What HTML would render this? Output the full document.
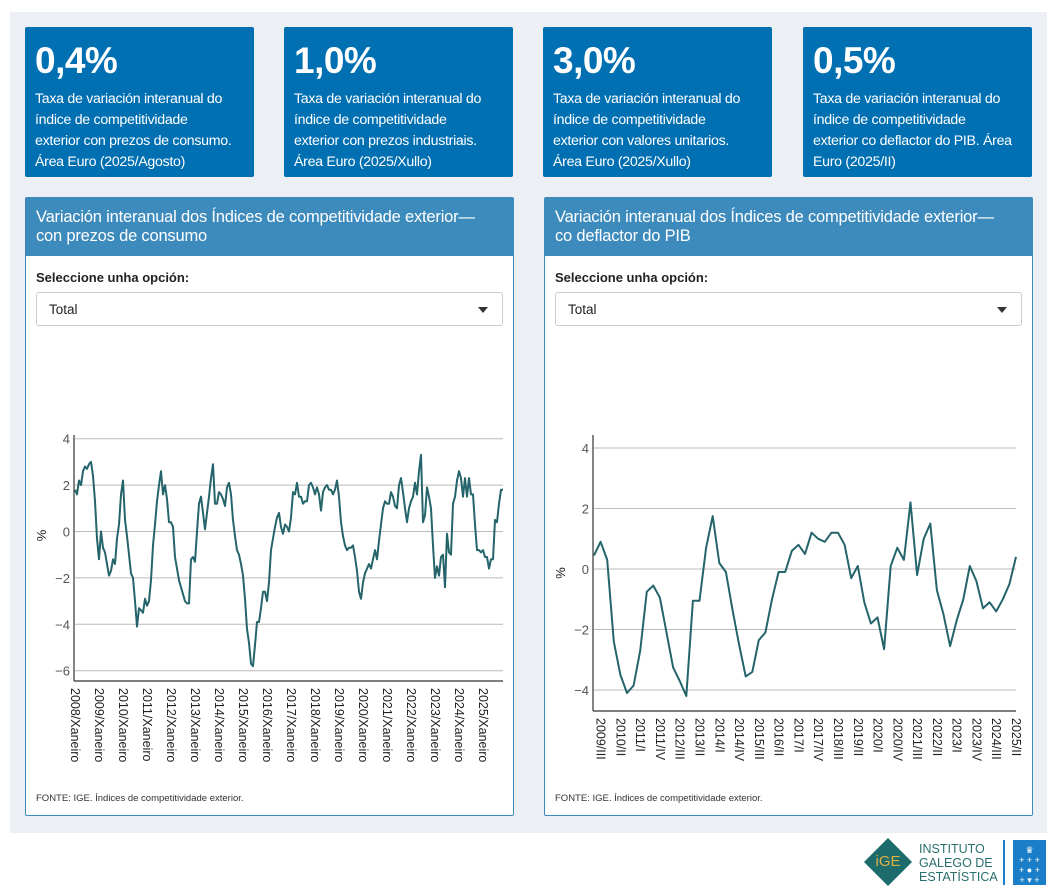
<!DOCTYPE html>
<html><head><meta charset="utf-8">
<style>
*{box-sizing:border-box;margin:0;padding:0}
body{width:1059px;height:896px;background:#fff;font-family:"Liberation Sans",sans-serif;position:relative;overflow:hidden}
.bg{position:absolute;left:10px;top:12px;width:1037px;height:821px;background:#eceff4}
.card{position:absolute;top:27px;width:229px;height:150px;background:#0070b3;color:#fff;border-radius:2px;padding:10px 10px;overflow:hidden}
.card .big{font-size:37px;font-weight:bold;line-height:44px;margin-top:2px;letter-spacing:-0.5px}
.card .txt{font-size:14.2px;line-height:21px;margin-top:6px;letter-spacing:-0.3px;white-space:nowrap}
.panel{position:absolute;top:197px;width:489px;height:619px;background:#fff;border:1px solid #3d8bbd;border-radius:2px}
.phead{height:58px;background:#3d8bbd;color:#fff;font-size:16.5px;line-height:19px;padding:10px 10px;letter-spacing:-0.2px;white-space:nowrap}
.lbl{position:absolute;left:10px;top:72px;font-size:13px;font-weight:bold;color:#222}
.sel{position:absolute;left:10px;top:94px;width:467px;height:34px;border:1px solid #ccc;border-radius:3px;font-size:13.5px;padding:9px 12px;color:#222}
.sel .arr{position:absolute;right:14px;top:14px;width:0;height:0;border-left:5px solid transparent;border-right:5px solid transparent;border-top:6px solid #333}
.src{position:absolute;left:10px;top:595px;font-size:9.5px;color:#333}
svg{position:absolute;left:0;top:0}
</style></head><body>
<div class="bg"></div>
<div class="card" style="left:25px"><div class="big">0,4%</div><div class="txt">Taxa de variación interanual do<br>índice de competitividade<br>exterior con prezos de consumo.<br>Área Euro (2025/Agosto)</div></div>
<div class="card" style="left:284px"><div class="big">1,0%</div><div class="txt">Taxa de variación interanual do<br>índice de competitividade<br>exterior con prezos industriais.<br>Área Euro (2025/Xullo)</div></div>
<div class="card" style="left:543px"><div class="big">3,0%</div><div class="txt">Taxa de variación interanual do<br>índice de competitividade<br>exterior con valores unitarios.<br>Área Euro (2025/Xullo)</div></div>
<div class="card" style="left:803px"><div class="big">0,5%</div><div class="txt">Taxa de variación interanual do<br>índice de competitividade<br>exterior co deflactor do PIB. Área<br>Euro (2025/II)</div></div>

<div class="panel" style="left:25px">
<div class="phead">Variación interanual dos Índices de competitividade exterior—<br>con prezos de consumo</div>
<div class="lbl">Seleccione unha opción:</div>
<div class="sel">Total<span class="arr"></span></div>
<div class="src">FONTE: IGE. Índices de competitividade exterior.</div>
</div>
<div class="panel" style="left:544px">
<div class="phead">Variación interanual dos Índices de competitividade exterior—<br>co deflactor do PIB</div>
<div class="lbl">Seleccione unha opción:</div>
<div class="sel">Total<span class="arr"></span></div>
<div class="src">FONTE: IGE. Índices de competitividade exterior.</div>
</div>

<svg id="chart" width="1059" height="896"></svg>

<div style="position:absolute;left:864px;top:842px;width:48px;height:40px">
<div style="position:absolute;left:7px;top:3px;width:34px;height:34px;background:#1e6b6b;transform:rotate(45deg)"></div>
<div style="position:absolute;left:0;top:11px;width:48px;text-align:center;color:#e0b040;font-size:15px">iGE</div></div>
<div style="position:absolute;left:919px;top:842px;font-size:12.5px;line-height:14px;color:#2a6e6e">INSTITUTO<br>GALEGO DE<br>ESTATÍSTICA</div>
<div style="position:absolute;left:1003px;top:840px;width:2px;height:45px;background:#1a7fc8"></div>
<div style="position:absolute;left:1013px;top:840px;width:33px;height:45px;background:#1a7fc8;color:#fff;font-size:9px;text-align:center;line-height:10px;padding-top:5px">♛<br>+ + +<br>+ ● +<br>+ ▾ +</div>

<script>
const monthlyValues=[1.8,1.6,2.2,2.0,2.6,2.8,2.7,2.9,3.0,2.4,1.3,-0.3,-1.2,0,-0.7,-0.9,-1.4,-1.9,-1.7,-1.2,-1.4,-0.3,0.3,1.6,2.2,0.5,-0.2,-1.0,-1.8,-2.0,-3.0,-4.1,-3.3,-3.4,-3.5,-2.9,-3.2,-3.0,-2.1,-0.6,0.3,1.3,2.0,2.6,1.6,2.0,1.4,0.4,0.4,0.2,-1.1,-1.6,-2.1,-2.4,-2.7,-3.0,-3.1,-3.1,-1.2,-1.1,-1.3,0.0,1.2,1.5,0.8,0.1,0.8,1.5,2.3,2.9,1.2,1.2,1.7,1.6,1.4,1.1,1.9,2.1,1.6,0.5,-0.2,-0.8,-1.0,-1.4,-1.9,-2.9,-4.2,-4.8,-5.7,-5.8,-4.9,-3.9,-3.9,-3.3,-2.6,-2.6,-3.0,-2.2,-0.8,-0.3,0.2,0.6,0.8,0.2,-0.1,0.3,0.2,0.0,0.6,1.7,1.6,2.1,1.5,1.5,1.2,1.3,1.3,2.0,2.1,1.9,1.6,1.9,1.6,0.9,1.7,1.9,2.0,1.8,1.8,1.6,1.8,2.2,1.5,0.4,-0.2,-0.6,-0.8,-0.7,-0.7,-0.6,-1.1,-1.7,-2.6,-2.9,-2.2,-1.8,-1.6,-1.4,-1.6,-1.2,-0.8,-1.2,-0.4,0.3,1.0,1.3,1.2,1.2,1.7,1.5,1.1,1.0,2.0,2.3,1.7,1.0,0.4,1.0,1.3,1.5,2.1,1.6,2.6,3.3,0.4,0.7,1.9,1.5,1.0,-0.6,-2.0,-1.5,-1.9,-1.1,-1.0,-2.4,-0.1,-0.9,-1.0,1.2,1.5,2.2,2.6,2.3,1.5,2.3,1.5,2.3,1.6,1.6,0.3,-0.8,-0.8,-0.9,-0.8,-1.1,-1.1,-1.6,-1.2,-1.2,0.5,0.4,1.2,1.8,1.8];
const monthlyYears=["2008","2009","2010","2011","2012","2013","2014","2015","2016","2017","2018","2019","2020","2021","2022","2023","2024","2025"];
const leftTicks=[4,2,0,-2,-4,-6];
const quarterValues=[0.45,0.9,0.3,-2.4,-3.5,-4.1,-3.85,-2.7,-0.75,-0.55,-0.95,-2.1,-3.25,-3.7,-4.2,-1.05,-1.05,0.7,1.75,0.2,-0.1,-1.35,-2.5,-3.55,-3.4,-2.35,-2.1,-1.0,-0.1,-0.1,0.6,0.8,0.5,1.2,1.0,0.9,1.2,1.2,0.8,-0.3,0.1,-1.1,-1.8,-1.6,-2.65,0.1,0.7,0.3,2.2,-0.2,1.0,1.5,-0.7,-1.5,-2.55,-1.7,-1.0,0.1,-0.4,-1.3,-1.1,-1.4,-1.0,-0.5,0.4];
const quarterLabels=["2009/III","2010/II","2011/I","2011/IV","2012/III","2013/II","2014/I","2014/IV","2015/III","2016/II","2017/I","2017/IV","2018/III","2019/II","2020/I","2020/IV","2021/III","2022/II","2023/I","2023/IV","2024/III","2025/II"];
const rightTicks=[4,2,0,-2,-4];

const svg=document.getElementById('chart');
const NS='http://www.w3.org/2000/svg';
function mk(tag,attrs,parent){const e=document.createElementNS(NS,tag);for(const k in attrs)e.setAttribute(k,attrs[k]);(parent||svg).appendChild(e);return e;}

function drawChart(cfg){
  const {vals,x0,x1,yTop,yBot,vMax,vMin,ticks,axTop,labels,labelIdx,color,name}=cfg;
  const g=mk('g',{});
  
  
  const xs=i=>x0+(x1-x0)*i/(vals.length-1);
  const ys=v=>yTop+(vMax-v)*(yBot-yTop)/(vMax-vMin);
  ticks.forEach(t=>{
    const l=mk('line',{x1:x0,x2:x1,y1:ys(t),y2:ys(t),stroke:'#bbb','stroke-width':1},g);
    
    
    const tx=mk('text',{x:x0-5,y:ys(t)+5,'text-anchor':'end','font-size':13,fill:'#555','font-family':'Liberation Sans, sans-serif'},g);
    tx.textContent=t<0?'\u2212'+Math.abs(t):String(t);
    
    
  });
  const ax=mk('line',{x1:x0-1,x2:x0-1,y1:axTop,y2:cfg.axBot,stroke:'#333','stroke-width':1.2},g);
  
  
  const bx=mk('line',{x1:x0-1,x2:x1,y1:cfg.axBot,y2:cfg.axBot,stroke:'#333','stroke-width':1.2},g);
  
  
  const yt=mk('text',{x:0,y:0,transform:`translate(${cfg.yTitleX},${ys(0)+4}) rotate(-90)`,'text-anchor':'middle','font-size':13,fill:'#222','font-family':'Liberation Sans, sans-serif'},g);
  yt.textContent='%';
  
  
  labels.forEach((lb,k)=>{
    const x=xs(labelIdx(k));
    const t=mk('text',{transform:`translate(${x-4},${cfg.axBot+7}) rotate(90)`,'font-size':12.5,fill:'#222','font-family':'Liberation Sans, sans-serif'},g);
    t.textContent=lb;
    
    
  });
  const d=vals.map((v,i)=>(i?'L':'M')+xs(i).toFixed(1)+','+ys(v).toFixed(1)).join(' ');
  const p=mk('path',{d,fill:'none',stroke:color,'stroke-width':2,'stroke-linejoin':'round'},g);
  
  
}
drawChart({vals:monthlyValues,x0:75,x1:503,yTop:438.7,yBot:670.7,vMax:4,vMin:-6,ticks:leftTicks,axTop:435,axBot:681,
  labels:monthlyYears.map(y=>y+'/Xaneiro'),labelIdx:k=>12*k,color:'#24646a',yTitleX:46,name:'chart-consumer-prices'});
drawChart({vals:quarterValues,x0:594,x1:1016,yTop:448,yBot:690,vMax:4,vMin:-4,ticks:rightTicks,axTop:435,axBot:711,
  labels:quarterLabels,labelIdx:k=>1+3*k,color:'#24646a',yTitleX:565,name:'chart-gdp-deflator'});
</script>
</body></html>
